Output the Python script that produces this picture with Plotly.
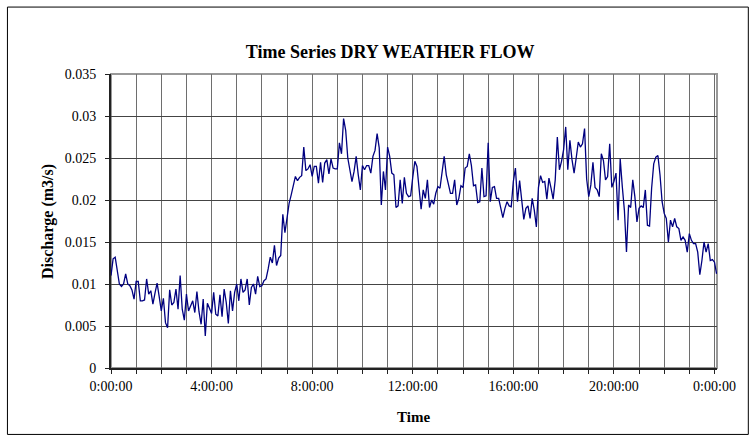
import plotly.graph_objects as go

# Discharge (m3/s) at 5-minute intervals
q_night = [  # 0:00 - 5:55
    0.0110, 0.0130, 0.0132, 0.0118, 0.0100, 0.0097, 0.0100, 0.0112, 0.0100, 0.0098, 0.0093, 0.0082,
    0.0103, 0.0103, 0.0080, 0.0080, 0.0081, 0.0106, 0.0088, 0.0092, 0.0076, 0.0089, 0.0101, 0.0085,
    0.0068, 0.0083, 0.0054, 0.0048, 0.0093, 0.0075, 0.0078, 0.0094, 0.0070, 0.0110, 0.0070, 0.0057,
    0.0088, 0.0068, 0.0074, 0.0080, 0.0066, 0.0091, 0.0067, 0.0052, 0.0082, 0.0038, 0.0077, 0.0070,
    0.0065, 0.0090, 0.0064, 0.0062, 0.0087, 0.0061, 0.0094, 0.0078, 0.0053, 0.0092, 0.0068, 0.0090,
    0.0100, 0.0080, 0.0106, 0.0090, 0.0093, 0.0106, 0.0075, 0.0096, 0.0100, 0.0088, 0.0109, 0.0097,
]
q_morning = [  # 6:00 - 11:55
    0.0098, 0.0104, 0.0106, 0.0118, 0.0132, 0.0125, 0.0146, 0.0122, 0.0131, 0.0134, 0.0183, 0.0161,
    0.0182, 0.0196, 0.0206, 0.0218, 0.0228, 0.0223, 0.0227, 0.0229, 0.0263, 0.0235, 0.0237, 0.0242,
    0.0228, 0.0240, 0.0240, 0.0220, 0.0245, 0.0221, 0.0244, 0.0248, 0.0231, 0.0249, 0.0238, 0.0237,
    0.0237, 0.0268, 0.0255, 0.0297, 0.0283, 0.0250, 0.0236, 0.0222, 0.0234, 0.0252, 0.0230, 0.0212,
    0.0241, 0.0236, 0.0241, 0.0241, 0.0232, 0.0252, 0.0259, 0.0279, 0.0262, 0.0194, 0.0234, 0.0212,
    0.0263, 0.0252, 0.0232, 0.0230, 0.0191, 0.0193, 0.0224, 0.0196, 0.0227, 0.0208, 0.0204, 0.0205,
]
q_afternoon = [  # 12:00 - 17:55
    0.0227, 0.0246, 0.0240, 0.0216, 0.0189, 0.0212, 0.0202, 0.0224, 0.0191, 0.0200, 0.0195, 0.0208,
    0.0216, 0.0214, 0.0232, 0.0252, 0.0230, 0.0220, 0.0208, 0.0208, 0.0224, 0.0194, 0.0202, 0.0217,
    0.0215, 0.0238, 0.0240, 0.0255, 0.0241, 0.0217, 0.0218, 0.0197, 0.0198, 0.0238, 0.0204, 0.0205,
    0.0268, 0.0198, 0.0215, 0.0216, 0.0202, 0.0202, 0.0191, 0.0179, 0.0190, 0.0198, 0.0193, 0.0192,
    0.0222, 0.0238, 0.0198, 0.0223, 0.0200, 0.0177, 0.0190, 0.0193, 0.0178, 0.0202, 0.0188, 0.0168,
    0.0215, 0.0229, 0.0221, 0.0222, 0.0201, 0.0226, 0.0214, 0.0201, 0.0224, 0.0275, 0.0236, 0.0246,
]
q_evening = [  # 18:00 - 24:05
    0.0260, 0.0287, 0.0236, 0.0271, 0.0248, 0.0232, 0.0250, 0.0269, 0.0263, 0.0267, 0.0285, 0.0225,
    0.0204, 0.0218, 0.0245, 0.0215, 0.0212, 0.0204, 0.0255, 0.0247, 0.0224, 0.0228, 0.0267, 0.0215,
    0.0222, 0.0232, 0.0176, 0.0249, 0.0216, 0.0188, 0.0138, 0.0194, 0.0191, 0.0224, 0.0204, 0.0174,
    0.0190, 0.0193, 0.0191, 0.0212, 0.0170, 0.0169, 0.0214, 0.0243, 0.0251, 0.0253, 0.0230, 0.0198,
    0.0184, 0.0178, 0.0150, 0.0176, 0.0168, 0.0178, 0.0168, 0.0166, 0.0152, 0.0156, 0.0152, 0.0138,
    0.0160, 0.0152, 0.0148, 0.0148, 0.0138, 0.0111, 0.0128, 0.0150, 0.0138, 0.0148, 0.0128, 0.0129,
    0.0126, 0.0112,
]

step_minutes = 5
tick_hours = list(range(0, 25))
tick_labels = ["0:00:00", "", "", "", "4:00:00", "", "", "", "8:00:00", "", "", "",
               "12:00:00", "", "", "", "16:00:00", "", "", "", "20:00:00", "", "", "", "0:00:00"]
y_ticks = [0, 0.005, 0.01, 0.015, 0.02, 0.025, 0.03, 0.035]
y_labels = ["0", "0.005", "0.01", "0.015", "0.02", "0.025", "0.03", "0.035"]

discharge = q_night + q_morning + q_afternoon + q_evening
hours = [i * step_minutes / 60 for i in range(len(discharge))]

FONT = "Times New Roman, Liberation Serif, serif"
W, H = 756, 441
L, R, T, B = 111, 716.7, 74.3, 367.7
pw, ph = R - L, B - T

def px(x):
    return (x - L) / pw

def py(y):
    return (B - y) / ph

fig = go.Figure()
fig.add_trace(go.Scatter(
    x=hours, y=discharge, mode="lines",
    line=dict(color="#000080", width=1.3),
    showlegend=False, hoverinfo="skip",
))

fig.update_layout(
    width=W, height=H,
    margin=dict(l=L, r=W - R, t=T, b=H - B, pad=0),
    paper_bgcolor="white", plot_bgcolor="white",
    font=dict(family=FONT, size=14, color="black"),
    title=dict(text="<b>Time Series DRY WEATHER FLOW</b>", font=dict(family=FONT, size=18, color="black"),
               xref="paper", x=px(390), xanchor="center",
               yref="container", y=1 - 52 / H, yanchor="middle"),
    xaxis=dict(range=[0, 24.1], tickmode="array", tickvals=tick_hours, ticktext=tick_labels,
               showgrid=True, gridcolor="#6e6e6e", gridwidth=1,
               showline=True, linecolor="#222222", linewidth=2,
               ticks="outside", ticklen=4, tickcolor="#222222", tickwidth=1,
               tickfont=dict(family=FONT, size=14, color="black"),
               zeroline=False, fixedrange=True),
    yaxis=dict(range=[0, 0.035], tickmode="array", tickvals=y_ticks, ticktext=y_labels,
               showgrid=True, gridcolor="#444444", gridwidth=1,
               showline=True, linecolor="#222222", linewidth=2,
               ticks="outside", ticklen=4, tickcolor="#222222", tickwidth=1,
               tickfont=dict(family=FONT, size=14, color="black"),
               ticklabelstandoff=6,
               zeroline=False, fixedrange=True),
    shapes=[
        dict(type="rect", xref="paper", yref="paper", x0=0, y0=0, x1=1, y1=1,
             line=dict(color="#999999", width=2), layer="below"),
        dict(type="rect", xref="paper", yref="paper",
             x0=px(7.5), x1=px(748), y0=py(434), y1=py(7.5),
             line=dict(color="black", width=1), layer="below"),
    ],
    annotations=[
        dict(text="<b>Discharge (m3/s)</b>", xref="paper", yref="paper",
             x=px(48), y=py(221), textangle=-90, showarrow=False,
             xanchor="center", yanchor="middle",
             font=dict(family=FONT, size=16, color="black")),
        dict(text="<b>Time</b>", xref="paper", yref="paper",
             x=px(413), y=py(417), showarrow=False,
             xanchor="center", yanchor="middle",
             font=dict(family=FONT, size=15, color="black")),
    ],
)

fig.write_html("out.html", config={"displayModeBar": False},
               post_script="document.body.style.margin='0';document.body.style.overflow='hidden';")
